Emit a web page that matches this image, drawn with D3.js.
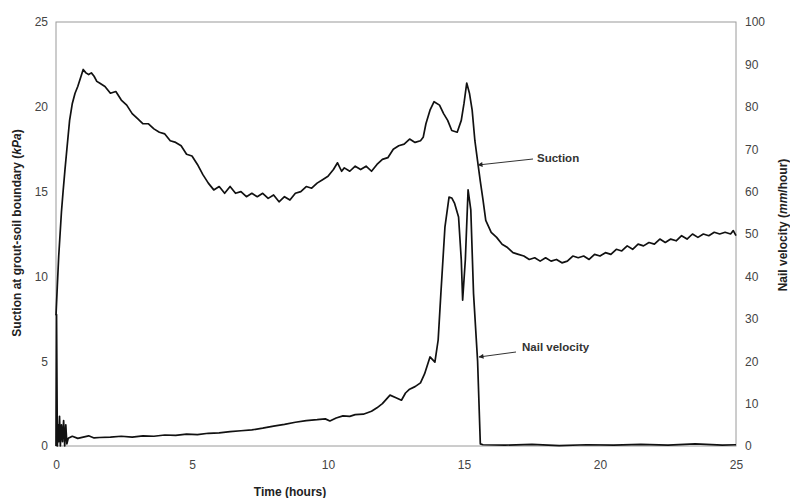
<!DOCTYPE html>
<html>
<head>
<meta charset="utf-8">
<script src="https://cdn.jsdelivr.net/npm/d3@7"></script>
<style>
  body { margin: 0; background: #fff; }
  svg { display: block; font-family: "Liberation Sans", Arial, sans-serif; }
</style>
</head>
<body>
<svg width="790" height="498"></svg>
<script>
// suction at grout-soil boundary (kPa), left axis
var suctionHours = [0, 0.05, 0.1, 0.15, 0.2, 0.26, 0.33, 0.4, 0.5, 0.6, 0.7, 0.8, 0.9, 1.0, 1.1, 1.2, 1.3, 1.4, 1.5,
  1.6, 1.8, 2.0, 2.2, 2.4, 2.6, 2.8, 3.0, 3.2, 3.4, 3.6, 3.8, 4.0, 4.2, 4.4, 4.6, 4.8, 5.0, 5.2, 5.4, 5.6, 5.8,
  6.0, 6.2, 6.4, 6.6, 6.8, 7.0, 7.2, 7.4, 7.6, 7.8, 8.0, 8.2, 8.4, 8.6, 8.8, 9.0, 9.2, 9.4, 9.6, 9.8,
  10.0, 10.2, 10.35, 10.5, 10.6, 10.8, 11.0, 11.2, 11.4, 11.6, 11.8, 12.0, 12.2, 12.4, 12.6, 12.8,
  13.0, 13.2, 13.4, 13.5, 13.6, 13.75, 13.9, 14.1, 14.25, 14.4, 14.55, 14.75, 14.9, 15.0, 15.1, 15.2,
  15.3, 15.4, 15.5, 15.6, 15.7, 15.8, 16.0, 16.2, 16.4, 16.6, 16.8, 17.0, 17.2, 17.4, 17.6, 17.8,
  18.0, 18.2, 18.4, 18.6, 18.8, 19.0, 19.2, 19.4, 19.6, 19.8, 20.0, 20.2, 20.4, 20.6, 20.8,
  21.0, 21.2, 21.4, 21.6, 21.8, 22.0, 22.2, 22.4, 22.6, 22.8, 23.0, 23.2, 23.4, 23.6, 23.8,
  24.0, 24.2, 24.4, 24.6, 24.8, 24.9, 25.0];
var suctionKPa = [7.7, 9.5, 11.2, 12.5, 13.8, 15.0, 16.3, 17.5, 19.2, 20.2, 20.8, 21.2, 21.7, 22.2, 22.0, 21.9, 22.0, 21.8, 21.5,
  21.4, 21.2, 20.8, 20.9, 20.4, 20.1, 19.6, 19.3, 19.0, 19.0, 18.7, 18.5, 18.4, 18.0, 17.9, 17.7, 17.2, 17.1, 16.6, 16.0, 15.5, 15.1,
  15.3, 14.9, 15.3, 14.9, 15.0, 14.7, 14.9, 14.7, 14.9, 14.6, 14.8, 14.4, 14.7, 14.5, 14.9, 15.0, 15.3, 15.2, 15.5, 15.7,
  15.9, 16.3, 16.7, 16.2, 16.4, 16.2, 16.5, 16.3, 16.5, 16.2, 16.6, 16.9, 17.0, 17.5, 17.7, 17.8,
  18.1, 17.9, 18.0, 18.2, 19.0, 19.8, 20.3, 20.1, 19.6, 19.2, 18.6, 18.5, 19.2, 20.2, 21.4, 20.8,
  19.8, 18.0, 16.8, 15.6, 14.5, 13.3, 12.6, 12.3, 11.9, 11.7, 11.4, 11.3, 11.2, 11.0, 11.1, 10.9,
  11.1, 10.9, 11.0, 10.8, 10.9, 11.2, 11.1, 11.2, 11.0, 11.3, 11.2, 11.4, 11.3, 11.6, 11.5,
  11.8, 11.6, 11.9, 11.8, 12.0, 11.9, 12.2, 12.0, 12.2, 12.1, 12.4, 12.2, 12.5, 12.3, 12.5,
  12.4, 12.6, 12.5, 12.6, 12.5, 12.7, 12.4];

// nail velocity (mm/hour), right axis
var velocityHours = [0, 0.02, 0.05, 0.08, 0.1, 0.13, 0.16, 0.2, 0.24, 0.28, 0.32, 0.36, 0.4, 0.45, 0.6, 0.8,
  1.0, 1.2, 1.4, 1.6, 2.0, 2.4, 2.8, 3.2, 3.6, 4.0, 4.4, 4.8, 5.2, 5.6, 6.0, 6.4, 6.8, 7.2, 7.6,
  8.0, 8.4, 8.8, 9.2, 9.6, 9.9, 10.07, 10.3, 10.55, 10.8, 11.0, 11.3, 11.6, 11.8, 12.0, 12.28, 12.5,
  12.7, 12.85, 13.0, 13.2, 13.4, 13.55, 13.75, 13.93, 14.05, 14.15, 14.3, 14.45, 14.55, 14.65, 14.8,
  14.9, 14.95, 15.05, 15.15, 15.25, 15.35, 15.5, 15.6, 15.7, 16.5, 17.5, 18.5, 19.5, 20.5, 21.5,
  22.5, 23.5, 24.5, 25];
var velocityMmHr = [0, 31, 0, 5, 1, 7, 0, 5, 1, 6, 0, 5, 0.5, 1.8, 2.3, 1.8,
  2.1, 2.4, 1.9, 2.0, 2.1, 2.3, 2.1, 2.4, 2.3, 2.6, 2.5, 2.8, 2.7, 3.0, 3.1, 3.4, 3.6, 3.8, 4.2,
  4.7, 5.1, 5.6, 6.0, 6.2, 6.4, 5.9, 6.6, 7.1, 7.0, 7.4, 7.5, 8.2, 9.0, 10.0, 12.0, 11.4,
  10.8, 12.5, 13.4, 14.0, 14.9, 17, 21, 19.8, 25, 36, 51.7, 58.7, 58.5, 57.3, 54,
  43.9, 34.4, 44, 60.4, 55.7, 36, 20, 0.5, 0.3, 0.2, 0.4, 0.1, 0.3, 0.2, 0.4,
  0.2, 0.5, 0.2, 0.3];

var xTicks = [0, 5, 10, 15, 20, 25];
var leftTicks = [0, 5, 10, 15, 20, 25];
var rightTicks = [0, 10, 20, 30, 40, 50, 60, 70, 80, 90, 100];

var svg = d3.select('svg');
var margin = {left: 56, right: 54, top: 22, bottom: 52};
var width = 790 - margin.left - margin.right;
var height = 498 - margin.top - margin.bottom;

var g = svg.append('g').attr('transform', 'translate(' + margin.left + ',' + margin.top + ')');

var x = d3.scaleLinear().domain([0, 25]).range([0, width]);
var yL = d3.scaleLinear().domain([0, 25]).range([height, 0]);
var yR = d3.scaleLinear().domain([0, 100]).range([height, 0]);

// frame
g.append('rect')
  .attr('width', width).attr('height', height)
  .attr('fill', 'none').attr('stroke', '#9a9a9a').attr('stroke-width', 1);

function styleAxis(sel) {
  sel.select('.domain').remove();
  sel.selectAll('.tick line').remove();
  sel.selectAll('text').attr('fill', '#444').style('font-size', '12px');
}

g.append('g').attr('transform', 'translate(0,' + height + ')')
  .call(d3.axisBottom(x).tickValues(xTicks).tickSize(0).tickPadding(14))
  .call(styleAxis);
g.append('g')
  .call(d3.axisLeft(yL).tickValues(leftTicks).tickSize(0).tickPadding(8))
  .call(styleAxis);
g.append('g').attr('transform', 'translate(' + width + ',0)')
  .call(d3.axisRight(yR).tickValues(rightTicks).tickSize(0).tickPadding(9))
  .call(styleAxis);

var suctionLine = d3.line()
  .x(function (d, i) { return x(suctionHours[i]); })
  .y(function (d) { return yL(d); });
var velocityLine = d3.line()
  .x(function (d, i) { return x(velocityHours[i]); })
  .y(function (d) { return yR(d); });

g.append('path').datum(velocityMmHr)
  .attr('d', velocityLine)
  .attr('fill', 'none').attr('stroke', '#111').attr('stroke-width', 1.7)
  .attr('stroke-linejoin', 'round');
g.append('path').datum(suctionKPa)
  .attr('d', suctionLine)
  .attr('fill', 'none').attr('stroke', '#111').attr('stroke-width', 1.7)
  .attr('stroke-linejoin', 'round');

// annotations
svg.append('defs').append('marker')
  .attr('id', 'arr').attr('viewBox', '0 0 10 10')
  .attr('refX', 9).attr('refY', 5)
  .attr('markerWidth', 7).attr('markerHeight', 5)
  .attr('orient', 'auto')
  .append('path').attr('d', 'M0,0L10,5L0,10z').attr('fill', '#222');

var notes = [
  {text: 'Suction', tx: 537, ty: 162, x1: 533, y1: 159, x2: 478, y2: 165},
  {text: 'Nail velocity', tx: 522, ty: 351, x1: 516, y1: 352, x2: 479, y2: 357}
];
notes.forEach(function (n) {
  svg.append('line')
    .attr('x1', n.x1).attr('y1', n.y1).attr('x2', n.x2).attr('y2', n.y2)
    .attr('stroke', '#333').attr('stroke-width', 1)
    .attr('marker-end', 'url(#arr)');
  svg.append('text')
    .attr('x', n.tx).attr('y', n.ty)
    .attr('fill', '#333').style('font-size', '11.5px').style('font-weight', 'bold')
    .text(n.text);
});

// axis titles
svg.append('text')
  .attr('x', 290).attr('y', 496)
  .attr('text-anchor', 'middle')
  .style('font-size', '12px').style('font-weight', 'bold').attr('fill', '#222')
  .text('Time (hours)');

var lt = svg.append('text')
  .attr('transform', 'translate(21,233) rotate(-90)')
  .attr('text-anchor', 'middle')
  .style('font-size', '12px').style('font-weight', 'bold').attr('fill', '#222');
lt.append('tspan').text('Suction at grout-soil boundary (');
lt.append('tspan').style('font-style', 'italic').text('kPa');
lt.append('tspan').text(')');

var rt = svg.append('text')
  .attr('transform', 'translate(787,225) rotate(-90)')
  .attr('text-anchor', 'middle')
  .style('font-size', '12px').style('font-weight', 'bold').attr('fill', '#222');
rt.append('tspan').text('Nail velocity (');
rt.append('tspan').style('font-style', 'italic').text('mm');
rt.append('tspan').text('/hour)');
</script>
</body>
</html>
